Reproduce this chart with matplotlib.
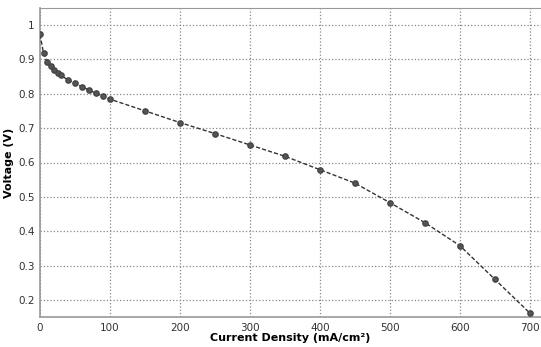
import numpy as np
import matplotlib
matplotlib.use('Agg')
import matplotlib.pyplot as plt

# Polarization curve
current = [0, 5, 10, 15, 20, 25, 30, 40, 50, 60, 70, 80, 90, 100,
           150, 200, 250, 300, 350, 400, 450, 500, 550, 600, 650, 700]
voltage = [0.972, 0.918, 0.892, 0.880, 0.869, 0.861, 0.853, 0.840, 0.830, 0.820,
           0.811, 0.801, 0.792, 0.784,
           0.750, 0.716, 0.684, 0.651, 0.618, 0.579, 0.540, 0.483, 0.425, 0.358, 0.260, 0.162]

xticks = [0, 100, 200, 300, 400, 500, 600, 700]
yticks = [0.2, 0.3, 0.4, 0.5, 0.6, 0.7, 0.8, 0.9, 1]

fig = plt.figure(figsize=(5.41, 3.47), dpi=100)
ax = fig.add_axes([40/541, 30/347, 1 - 40/541, 309/347])

ax.plot(current, voltage, '--', color='#333333', lw=1.0, dashes=(3, 1.5),
        marker='o', ms=3.8, mfc='#555555', mec='#444444', zorder=3)

ax.set_xlim(0, 715.7)
ax.set_ylim(0.151, 1.049)
ax.set_xticks(xticks)
ax.set_yticks(yticks)
ax.set_yticklabels(['0.2', '0.3', '0.4', '0.5', '0.6', '0.7', '0.8', '0.9', '1'])
ax.grid(True, ls=':', color='#888888', lw=0.9)

ax.spines['right'].set_visible(False)
for s in ['left', 'bottom', 'top']:
    ax.spines[s].set_color('#999999')
    ax.spines[s].set_linewidth(1.2)
ax.spines['top'].set_linewidth(0.8)

ax.tick_params(length=0, labelsize=7.5, labelcolor='#333333', pad=4)
ax.set_xlabel('Current Density (mA/cm\u00b2)', fontsize=8, fontweight='bold', labelpad=0)
ax.set_ylabel('Voltage (V)', fontsize=8, fontweight='bold', labelpad=3)

fig.savefig('out.png', dpi=100)
